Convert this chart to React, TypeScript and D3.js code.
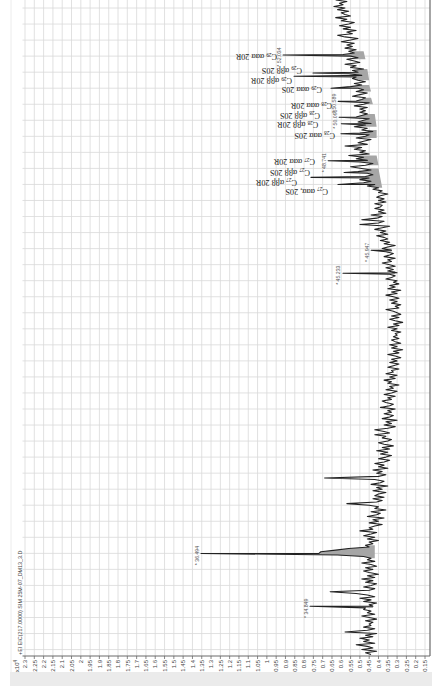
import React from "react";
import * as d3 from "d3";

// EIC m/z 217 trace (sterane window), drawn with time running up the page.
const W = 432;
const H = 686;

const intensityTicks = [
  2.3, 2.25, 2.2, 2.15, 2.1, 2.05, 2, 1.95, 1.9, 1.85, 1.8, 1.75, 1.7, 1.65, 1.6,
  1.55, 1.5, 1.45, 1.4, 1.35, 1.3, 1.25, 1.2, 1.15, 1.1, 1.05, 1, 0.95, 0.9, 0.85,
  0.8, 0.75, 0.7, 0.65, 0.6, 0.55, 0.5, 0.45, 0.4, 0.35, 0.3, 0.25, 0.2, 0.15,
];

const timeGrid = [
  33.5, 34, 34.5, 35, 35.5, 36, 36.5, 37, 37.5, 38, 38.5, 39, 39.5, 40, 40.5, 41,
  41.5, 42, 42.5, 43, 43.5, 44, 44.5, 45, 45.5, 46, 46.5, 47, 47.5, 48, 48.5, 49,
  49.5, 50, 50.5, 51, 51.5, 52, 52.5, 53, 53.5,
];

// Baseline signal sampled every 0.05 min from 33.35 min (x10^4 counts)
const signalStart = 33.35;
const signalStep = 0.05;
const signal = [
  0.44, 0.47, 0.41, 0.49, 0.43, 0.46, 0.52, 0.42, 0.48, 0.45, 0.5, 0.43, 0.47, 0.41, 0.58, 0.46, 0.42, 0.48, 0.44, 0.45,
  0.43, 0.47, 0.41, 0.45, 0.49, 0.42, 0.46, 0.44, 0.48, 0.47, 0.43, 0.45, 0.41, 0.48, 0.44, 0.5, 0.42, 0.46, 0.52, 0.66,
  0.45, 0.42, 0.48, 0.44, 0.41, 0.47, 0.43, 0.49, 0.42, 0.46, 0.4, 0.45, 0.48, 0.43, 0.47, 0.41, 0.44, 0.49, 0.42, 0.46,
  0.44, 0.48, 0.62, 0.72, 0.71, 0.63, 0.56, 0.45, 0.47, 0.43, 0.45, 0.4, 0.46, 0.42, 0.48, 0.44, 0.41, 0.5, 0.43, 0.45,
  0.42, 0.38, 0.45, 0.4, 0.43, 0.37, 0.46, 0.41, 0.39, 0.44, 0.36, 0.42, 0.4, 0.45, 0.57, 0.41, 0.38, 0.43, 0.37, 0.42,
  0.4, 0.36, 0.43, 0.38, 0.41, 0.35, 0.44, 0.39, 0.37, 0.42, 0.69, 0.4, 0.36, 0.41, 0.38, 0.43, 0.35, 0.4, 0.37, 0.42,
  0.37, 0.34, 0.4, 0.36, 0.33, 0.39, 0.35, 0.41, 0.34, 0.38, 0.32, 0.37, 0.4, 0.35, 0.33, 0.38, 0.36, 0.42, 0.34, 0.37,
  0.42, 0.35, 0.31, 0.37, 0.33, 0.36, 0.3, 0.38, 0.34, 0.32, 0.37, 0.33, 0.35, 0.31, 0.39, 0.34, 0.32, 0.36, 0.38, 0.33,
  0.35, 0.31, 0.37, 0.33, 0.3, 0.36, 0.32, 0.34, 0.29, 0.35, 0.33, 0.37, 0.31, 0.34, 0.3, 0.36, 0.32, 0.33, 0.29, 0.35,
  0.32, 0.29, 0.34, 0.3, 0.33, 0.28, 0.31, 0.35, 0.29, 0.32, 0.27, 0.33, 0.3, 0.34, 0.28, 0.31, 0.33, 0.29, 0.32, 0.3,
  0.31, 0.28, 0.33, 0.3, 0.35, 0.29, 0.32, 0.27, 0.31, 0.34, 0.29, 0.33, 0.28, 0.3, 0.32, 0.36, 0.29, 0.31, 0.28, 0.33,
  0.3, 0.34, 0.29, 0.32, 0.36, 0.3, 0.33, 0.28, 0.35, 0.31, 0.34, 0.29, 0.32, 0.3, 0.36, 0.33, 0.31, 0.34, 0.3, 0.35,
  0.32, 0.36, 0.31, 0.34, 0.38, 0.33, 0.35, 0.31, 0.37, 0.34, 0.32, 0.36, 0.33, 0.38, 0.35, 0.31, 0.37, 0.34, 0.39, 0.35,
  0.37, 0.41, 0.35, 0.39, 0.36, 0.42, 0.38, 0.34, 0.5, 0.4, 0.37, 0.49, 0.41, 0.38, 0.44, 0.36, 0.4, 0.37, 0.42, 0.39,
  0.38, 0.42, 0.36, 0.4, 0.37, 0.41, 0.39, 0.35, 0.4, 0.38, 0.43, 0.4, 0.46, 0.42, 0.48, 0.44, 0.5, 0.45, 0.47, 0.43,
  0.46, 0.51, 0.44, 0.49, 0.55, 0.47, 0.43, 0.5, 0.46, 0.52, 0.48, 0.56, 0.45, 0.5, 0.47, 0.53, 0.49, 0.58, 0.46, 0.51,
  0.48, 0.44, 0.52, 0.47, 0.45, 0.5, 0.43, 0.49, 0.46, 0.53, 0.47, 0.44, 0.51, 0.48, 0.45, 0.52, 0.49, 0.46, 0.5, 0.47,
  0.5, 0.46, 0.53, 0.48, 0.45, 0.52, 0.49, 0.47, 0.54, 0.5, 0.46, 0.52, 0.48, 0.51, 0.55, 0.49, 0.53, 0.47, 0.51, 0.54,
  0.52, 0.49, 0.56, 0.51, 0.54, 0.48, 0.55, 0.52, 0.58, 0.5, 0.53, 0.57, 0.51, 0.55, 0.59, 0.53, 0.56, 0.52, 0.58, 0.54,
  0.57, 0.53, 0.6, 0.55, 0.51, 0.58, 0.62, 0.54, 0.57, 0.52, 0.59, 0.55, 0.61, 0.56, 0.53, 0.6, 0.57, 0.63, 0.55, 0.58,
  0.6, 0.56, 0.62, 0.58, 0.64, 0.59, 0.61, 0.57, 0.63,
];

// Peaks labelled with retention time only
const peakRT = [34.849, 36.494, 45.233, 45.947];
const peakHeight = [0.768, 1.354, 0.591, 0.44];

// Sterane peaks
const steraneCarbon = ["27", "27", "27", "27", "28", "28", "28", "28", "29", "29", "29", "29"];
const steraneName = [
  "ααα, 20S", "αββ 20R", "αββ 20S", "ααα 20R",
  "ααα 20S", "αββ 20R", "αββ 20S", "ααα 20R",
  "ααα 20S", "αββ 20R", "αββ 20S", "ααα 20R",
];
const steraneRT = [48.0, 48.22, 48.37, 48.741, 49.58, 49.89, 50.096, 50.589, 51.0, 51.37, 51.475, 52.034];
const steraneHeight = [0.618, 0.763, 0.585, 0.671, 0.602, 0.6, 0.612, 0.617, 0.655, 0.854, 0.752, 0.913];
const steraneShowRT = [false, false, false, true, false, false, true, true, false, false, false, true];

// Integrated windows: start, end (min) and baseline level at each end
const integStart = [34.8, 36.35, 45.2, 45.9, 47.9, 48.6, 49.45, 49.8, 50.5, 50.9, 51.25, 51.9];
const integEnd = [34.9, 36.75, 45.3, 46.0, 48.5, 48.9, 49.7, 50.2, 50.7, 51.1, 51.6, 52.15];
const integBaseStart = [0.43, 0.42, 0.31, 0.33, 0.38, 0.4, 0.41, 0.41, 0.43, 0.44, 0.45, 0.47];
const integBaseEnd = [0.43, 0.42, 0.31, 0.33, 0.4, 0.41, 0.41, 0.42, 0.44, 0.45, 0.46, 0.48];

// Label placement tweaks (dx, dy in px) for the sterane annotations
const steraneLabelOffset: [number, number][] = [
  [-10, 7.5], [-14, 5.5], [-34, 0], [-13, 1.5], [-6, 2], [-23, 1.5],
  [-19, -1.5], [-6, 5], [-9, 2], [-2, 5], [-11, -2], [-6, 2],
];

type Pt = { t: number; v: number };

const fmt = (v: number) => String(+v.toFixed(2));

export default function App() {
  const x = d3.scaleLinear().domain([2.3, 0.15]).range([25, 425]);
  const y = d3.scaleLinear().domain([33.3, 53.75]).range([656, 0]);

  const plotLeft = 22.5;
  const plotRight = 430;
  const axisY = y(33.3);

  const pts: Pt[] = [
    ...signal.map((v, i) => ({ t: +(signalStart + i * signalStep).toFixed(3), v })),
    ...peakRT.map((t, i) => ({ t, v: peakHeight[i] })),
    ...steraneRT.map((t, i) => ({ t, v: steraneHeight[i] })),
  ].sort((a, b) => a.t - b.t);

  const line = d3
    .line<Pt>()
    .x((d) => x(d.v))
    .y((d) => y(d.t));

  const fills = integStart.map((a, i) => {
    const b = integEnd[i];
    const seg = pts.filter((p) => p.t >= a - 1e-6 && p.t <= b + 1e-6);
    const poly = [...seg, { t: b, v: integBaseEnd[i] }, { t: a, v: integBaseStart[i] }];
    return (line(poly) || "") + "Z";
  });

  const sans = "'Liberation Sans', Arial, sans-serif";
  const serif = "'Liberation Serif', 'Times New Roman', serif";

  return (
    <svg
      width={W}
      height={H}
      viewBox={`0 0 ${W} ${H}`}
      style={{ position: "absolute", left: 0, top: 0, display: "block", background: "#fff" }}
    >
      <defs>
        <clipPath id="plot">
          <rect x={plotLeft} y={0} width={plotRight - plotLeft} height={axisY} />
        </clipPath>
      </defs>

      {/* bottom band */}
      <rect x={10} y={672} width={W - 10} height={H - 672} fill="#ebebeb" />
      <line x1={11} x2={11} y1={0} y2={672} stroke="#ececec" strokeWidth={1} />

      {/* grid */}
      <g stroke="#d9d9d9" strokeWidth={0.8}>
        {intensityTicks.map((v) => (
          <line key={"gv" + v} x1={x(v)} x2={x(v)} y1={0} y2={axisY} />
        ))}
        {timeGrid.map((t) => (
          <line key={"gt" + t} x1={plotLeft} x2={plotRight} y1={y(t)} y2={y(t)} />
        ))}
      </g>

      {/* trace */}
      <g clipPath="url(#plot)">
        {fills.map((d, i) => (
          <path key={"f" + i} d={d} fill="#a6a6a6" stroke="none" />
        ))}
        <path d={line(pts) || ""} fill="none" stroke="#222" strokeWidth={1.05} strokeLinejoin="round" />
      </g>

      {/* axes */}
      <line x1={plotRight} x2={plotRight} y1={0} y2={axisY} stroke="#6a6a6a" strokeWidth={1.2} />
      <line x1={plotLeft} x2={plotRight} y1={axisY} y2={axisY} stroke="#6a6a6a" strokeWidth={1} />
      <g stroke="#6a6a6a" strokeWidth={0.8}>
        {intensityTicks.map((v) => (
          <line key={"tk" + v} x1={x(v)} x2={x(v)} y1={axisY} y2={axisY + 3} />
        ))}
      </g>
      <g fontFamily={sans} fontSize={6} fill="#444">
        {intensityTicks.map((v) => (
          <text key={"tl" + v} transform={`translate(${x(v) + 2.2},${axisY + 4}) rotate(-90)`} textAnchor="end">
            {fmt(v)}
          </text>
        ))}
        <text transform={`translate(19,${axisY + 4}) rotate(-90)`} textAnchor="end">
          x10<tspan dy={-2} fontSize={4.5}>4</tspan>
        </text>
        <text transform={`translate(21.5,${axisY - 1}) rotate(-90)`} fontSize={5.4}>
          +EI EIC(217.0000) SIM 25M-07_DM13_3.D
        </text>
      </g>

      {/* retention time labels */}
      <g fontFamily={sans} fontSize={5.2} fill="#555">
        {peakRT.map((t, i) => (
          <text
            key={"rt" + t}
            transform={`translate(${x(peakHeight[i]) - 2.5},${y(t) + 2}) rotate(-90)`}
            textAnchor="middle"
          >
            {"* " + t.toFixed(3)}
          </text>
        ))}
        {steraneRT.map((t, i) =>
          steraneShowRT[i] ? (
            <text
              key={"srt" + t}
              transform={`translate(${x(steraneHeight[i]) - 2.5},${y(t) + 2}) rotate(-90)`}
              textAnchor="middle"
            >
              {"* " + t.toFixed(3)}
            </text>
          ) : null
        )}
      </g>

      {/* sterane annotations */}
      <g fontFamily={serif} fontSize={8.2} fill="#222" style={{ whiteSpace: "pre" }}>
        {steraneRT.map((t, i) => {
          const [dx, dy] = steraneLabelOffset[i];
          const [conf, epi] = steraneName[i].split(" ");
          return (
            <text
              key={"sl" + t}
              transform={`translate(${x(steraneHeight[i]) + dx},${y(t) + dy - 3}) rotate(180)`}
            >
              C
              <tspan fontSize={5.3} dy={1.5}>
                {steraneCarbon[i]}
              </tspan>
              <tspan dy={-1.5}>{"  " + conf + "  " + epi}</tspan>
            </text>
          );
        })}
      </g>
    </svg>
  );
}
